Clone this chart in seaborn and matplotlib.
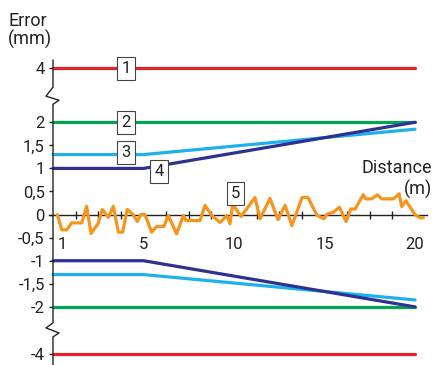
import numpy as np
import pandas as pd
import matplotlib
matplotlib.use("Agg")
import matplotlib.pyplot as plt
import seaborn as sns

sns.set_theme(style="white")
plt.rcParams['font.family'] = ['Roboto', 'DejaVu Sans']

# broken y axis: +4 / -4 are drawn at these positions
Y_TOP = 3.17
Y_BOT = -3.02

# reference lines (x, value)
line1_x = [0, 20]
line1_y = [4, 4]
line2_x = [0, 20]
line2_y = [2, 2]
line3_x = [0, 5, 20]
line3_y = [1.3, 1.3, 1.85]
line4_x = [0, 5, 20]
line4_y = [1.0, 1.0, 2.0]

# measured error along the distance
meas_x = [0.24, 0.48, 0.76, 1.03, 1.59, 1.86, 2.10, 2.50, 2.72, 3.06, 3.33, 3.61,
          3.85, 4.10, 4.40, 4.66, 4.85, 5.08, 5.45, 5.73, 6.13, 6.37, 6.83, 7.20,
          7.35, 8.12, 8.40, 8.77, 9.23, 9.60, 9.78, 9.93, 10.39, 11.16, 11.44,
          11.99, 12.43, 12.82, 13.20, 13.76, 14.09, 14.59, 14.97, 15.15, 15.49,
          15.82, 16.19, 16.45, 16.69, 17.14, 17.28, 17.61, 17.92, 18.16, 18.80,
          19.12, 19.27, 19.50, 20.0, 20.28, 20.46]
meas_y = [0.0, -0.33, -0.33, -0.18, -0.18, 0.18, -0.41, -0.19, 0.11, -0.06, 0.18,
          -0.38, -0.38, 0.11, 0.01, -0.15, 0.0, 0.0, -0.38, -0.26, -0.26, -0.02,
          -0.42, -0.02, -0.13, -0.13, 0.20, -0.02, -0.17, -0.02, -0.20, 0.22,
          -0.04, 0.37, -0.09, 0.35, -0.11, 0.20, -0.24, 0.37, 0.37, -0.02,
          -0.09, 0.01, 0.05, 0.16, -0.15, 0.12, 0.12, 0.43, 0.34, 0.34, 0.43,
          0.34, 0.34, 0.45, 0.17, 0.30, 0.0, -0.07, -0.07]

ytick_vals = [4, 2, 1.5, 1, 0.5, 0, -0.5, -1, -1.5, -2, -4]
ytick_labels = ["4", "2", "1,5", "1", "0,5", "0", "-0,5", "-1", "-1,5", "-2", "-4"]
xtick_pos = [0.5, 5, 10, 15, 20]
xtick_labels = ["1", "5", "10", "15", "20"]

colors = {'1': '#e8202a', '2': '#00a651', '3': '#1cb0ec', '4': '#2e3192', '5': '#f7941d'}


def ymap(v):
    v = np.asarray(v, dtype=float)
    return np.where(v > 2.5, Y_TOP, np.where(v < -2.5, Y_BOT, v))


fig = plt.figure(figsize=(4.34, 3.65), dpi=100)
ax = fig.add_axes([53 / 434, 0, 1 - 53 / 434, 1])
ax.set_xlim(0, 21.05)
ax.set_ylim(-3.26, 4.65)

lw = 2.3
series = [('1', line1_x, line1_y), ('2', line2_x, line2_y),
          ('3', line3_x, line3_y), ('4', line4_x, line4_y)]
for name, xs, ys in series:
    for sgn in (1, -1):
        df = pd.DataFrame({'x': xs, 'y': ymap(np.array(ys) * sgn)})
        sns.lineplot(data=df, x='x', y='y', color=colors[name], lw=lw, ax=ax,
                     estimator=None, zorder=3, clip_on=False)

df5 = pd.DataFrame({'x': meas_x, 'y': meas_y})
sns.lineplot(data=df5, x='x', y='y', color=colors['5'], lw=lw, ax=ax,
             estimator=None, zorder=4, clip_on=False)

# left axis drawn by hand with zigzag breaks
px_x = 1 / 18.1
def ypx(p):
    return 2 + (122 - p) / 46

axis_x = [0, 0, -7 * px_x, 6 * px_x, 0, 0, 0, -7 * px_x, 6 * px_x, 0, 0]
axis_y = [3.35, ypx(87), ypx(96), ypx(100), ypx(104),
          ypx(322), ypx(322), ypx(327), ypx(332), ypx(336), -3.3]
ax.plot(axis_x, axis_y, color='#222222', lw=1.0, clip_on=False, zorder=5)

for s in ['top', 'right', 'left']:
    ax.spines[s].set_visible(False)
ax.spines['bottom'].set_position(('data', 0))
ax.spines['bottom'].set_bounds(-0.2, 20.66)
ax.spines['bottom'].set_color('#222222')
ax.spines['bottom'].set_linewidth(1.0)
ax.spines['bottom'].set_zorder(2)

ax.set_yticks(ymap(ytick_vals))
ax.set_yticklabels(ytick_labels)
ax.tick_params(axis='y', direction='out', length=3, width=1, color='#222222',
               left=True, pad=3, labelsize=12, labelcolor='#222222')

ax.set_xticks(xtick_pos)
ax.set_xticklabels(xtick_labels)
ax.set_xticks(np.arange(1.25, 20.01, 1.25), minor=True)
ax.tick_params(axis='x', which='major', length=0, pad=16, labelsize=12,
               labelcolor='#222222')
ax.tick_params(axis='x', which='minor', direction='inout', length=6, width=1,
               color='#222222', bottom=True)
ax.set_xlabel('')
ax.set_ylabel('')
ax.grid(False)

# numbered boxes
boxes = [('1', 4.03, Y_TOP), ('2', 4.03, 2.0), ('3', 4.03, 1.35),
         ('4', 5.86, 0.93), ('5', 10.08, 0.46)]
for txt, bx, by in boxes:
    ax.text(bx, by, txt, ha='center', va='center', fontsize=12, color='#222222',
            zorder=6, bbox=dict(boxstyle='square,pad=0.25', fc='white',
                                ec='#444444', lw=0.8))

fig.text(8 / 434, 1 - 12 / 365, "Error\n(mm)", ha='left', va='top',
         fontsize=13, color='#222222', linespacing=1.0)
fig.text(432 / 434, 1 - 168 / 365, "Distance", ha='right', va='center',
         fontsize=13, color='#222222')
fig.text(432 / 434, 1 - 189 / 365, "(m)", ha='right', va='center',
         fontsize=13, color='#222222')

fig.savefig('out.png', dpi=100)
plt.close(fig)
